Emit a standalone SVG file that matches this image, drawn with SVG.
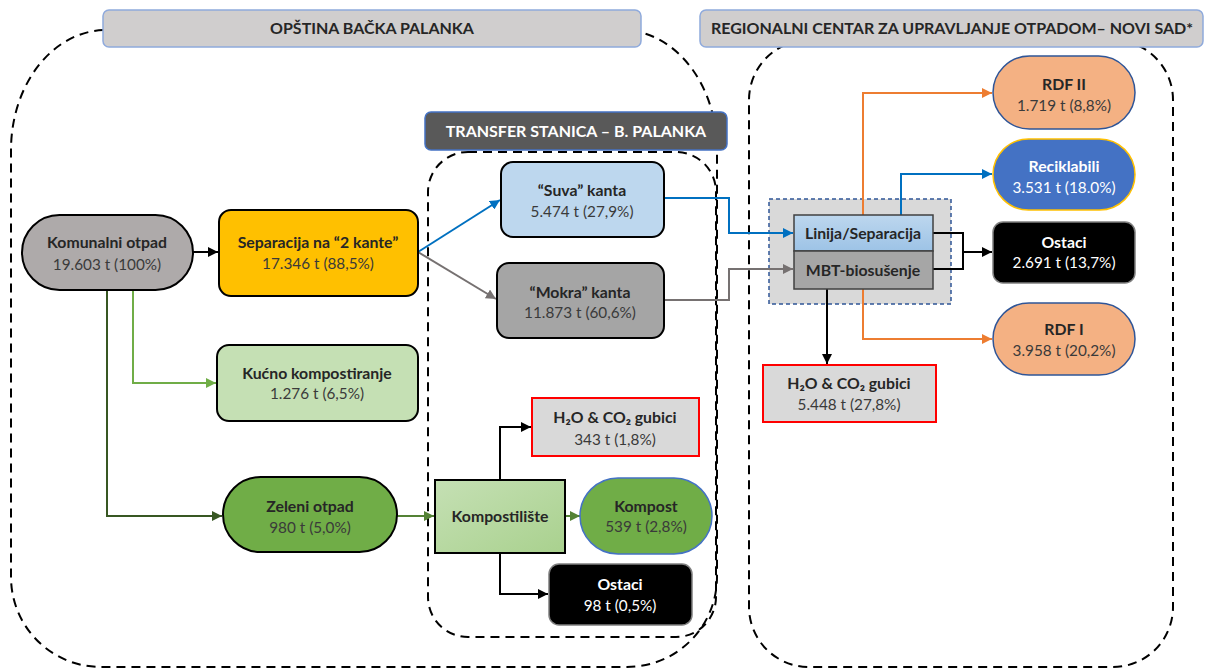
<svg xmlns="http://www.w3.org/2000/svg" width="1208" height="669" viewBox="0 0 1208 669">
<style>
text{font-family:Lato,"Liberation Sans",sans-serif;font-size:15.3px;fill:#262626;text-anchor:middle}
.b{font-weight:bold;font-size:15.8px}
.v{fill:#3a3a3a}
.w{fill:#ffffff}
.hd{font-weight:bold;font-size:16px}
.dash{fill:none;stroke:#000;stroke-width:2;stroke-dasharray:9 6}
.nb{stroke:#000;stroke-width:2}
.ln{fill:none;stroke-width:2}
</style>
<defs>
<marker id="ak" viewBox="0 0 10 10" refX="10" refY="5" markerWidth="10" markerHeight="10" markerUnits="userSpaceOnUse" orient="auto"><path d="M0,0L10,5L0,10z" fill="#000"/></marker>
<marker id="ab" viewBox="0 0 10 10" refX="10" refY="5" markerWidth="10" markerHeight="10" markerUnits="userSpaceOnUse" orient="auto"><path d="M0,0L10,5L0,10z" fill="#0070c0"/></marker>
<marker id="ag" viewBox="0 0 10 10" refX="10" refY="5" markerWidth="10" markerHeight="10" markerUnits="userSpaceOnUse" orient="auto"><path d="M0,0L10,5L0,10z" fill="#767171"/></marker>
<marker id="ao" viewBox="0 0 10 10" refX="10" refY="5" markerWidth="10" markerHeight="10" markerUnits="userSpaceOnUse" orient="auto"><path d="M0,0L10,5L0,10z" fill="#ed7d31"/></marker>
<marker id="alg" viewBox="0 0 10 10" refX="10" refY="5" markerWidth="10" markerHeight="10" markerUnits="userSpaceOnUse" orient="auto"><path d="M0,0L10,5L0,10z" fill="#70ad47"/></marker>
<marker id="adg" viewBox="0 0 10 10" refX="10" refY="5" markerWidth="10" markerHeight="10" markerUnits="userSpaceOnUse" orient="auto"><path d="M0,0L10,5L0,10z" fill="#385723"/></marker>
<marker id="amg" viewBox="0 0 10 10" refX="10" refY="5" markerWidth="10" markerHeight="10" markerUnits="userSpaceOnUse" orient="auto"><path d="M0,0L10,5L0,10z" fill="#548235"/></marker>
<linearGradient id="gLin" x1="0" y1="0" x2="0" y2="1"><stop offset="0" stop-color="#bdd7ee"/><stop offset="1" stop-color="#9dc3e6"/></linearGradient>
<linearGradient id="gKomp" x1="0" y1="0" x2="1" y2="1"><stop offset="0" stop-color="#c5e0b4"/><stop offset="1" stop-color="#a9d18e"/></linearGradient>
</defs>

<g id="region-opstina">
<path class="dash" d="M106,30 H622 A95 120 0 0 1 717 150 V577 A90 90 0 0 1 627 667 H101 A90 90 0 0 1 11 577 V150 A95 120 0 0 1 106 30 Z"/>
</g>
<g id="region-regionalni">
<rect class="dash" x="749" y="40" width="424" height="627" rx="60"/>
</g>
<g id="header-opstina">
<rect x="103" y="10" width="538" height="37" rx="6" fill="#d0cece" stroke="#8faadc" stroke-width="1.5"/>
<text class="hd" x="372" y="34">OPŠTINA BAČKA PALANKA</text>
</g>
<g id="header-regionalni">
<rect x="700" y="10" width="503" height="37" rx="6" fill="#d0cece" stroke="#8faadc" stroke-width="1.5"/>
<text class="hd" x="952" y="34">REGIONALNI CENTAR ZA UPRAVLJANJE OTPADOM– NOVI SAD*</text>
</g>
<g id="region-transfer">
<rect class="dash" x="428" y="152" width="288" height="485" rx="40"/>
</g>
<g id="header-transfer">
<rect x="425" y="112" width="302" height="38" rx="6" fill="#595959" stroke="#4472c4" stroke-width="1.5"/>
<text class="hd w" x="576" y="137">TRANSFER STANICA – B. PALANKA</text>
</g>

<g id="mbt-container">
<rect x="769" y="199" width="182" height="105" fill="#d9d9d9" stroke="#2f5597" stroke-width="1.5" stroke-dasharray="4 3"/>
</g>

<g id="connectors">
<path class="ln" stroke="#000" d="M193,252 H218" marker-end="url(#ak)"/>
<path class="ln" stroke="#0070c0" d="M418,252 L500,200" marker-end="url(#ab)"/>
<path class="ln" stroke="#767171" d="M418,252 L496,299" marker-end="url(#ag)"/>
<path class="ln" stroke="#70ad47" d="M133,290 V383 H216" marker-end="url(#alg)"/>
<path class="ln" stroke="#385723" d="M107,290 V516 H222" marker-end="url(#adg)"/>
<path class="ln" stroke="#548235" d="M397,516 H434" marker-end="url(#amg)"/>
<path class="ln" stroke="#548235" d="M565,516 H580" marker-end="url(#amg)"/>
<path class="ln" stroke="#000" d="M500,480 V427 H531" marker-end="url(#ak)"/>
<path class="ln" stroke="#000" d="M500,553 V594 H548" marker-end="url(#ak)"/>
<path class="ln" stroke="#0070c0" d="M664,198 H729 V233 H793" marker-end="url(#ab)"/>
<path class="ln" stroke="#767171" d="M664,300 H729 V269 H793" marker-end="url(#ag)"/>
<path class="ln" stroke="#ed7d31" d="M863,215 V93 H992" marker-end="url(#ao)"/>
<path class="ln" stroke="#0070c0" d="M901,215 V174 H992" marker-end="url(#ab)"/>
<path class="ln" stroke="#000" d="M933,233 H963 V269 H933"/>
<path class="ln" stroke="#000" d="M963,252 H992" marker-end="url(#ak)"/>
<path class="ln" stroke="#ed7d31" d="M863,289 V339 H992" marker-end="url(#ao)"/>
<path class="ln" stroke="#000" d="M827,289 V364" marker-end="url(#ak)"/>
</g>

<g id="komunalni">
<rect class="nb" x="22" y="215" width="171" height="75" rx="37.5" fill="#aeaaaa"/>
<text class="b" x="107" y="248">Komunalni otpad</text>
<text class="v" x="107" y="270">19.603 t (100%)</text>
</g>
<g id="separacija">
<rect class="nb" x="219" y="210" width="199" height="86" rx="12" fill="#ffc000"/>
<text class="b" x="318" y="248">Separacija na “2 kante”</text>
<text class="v" x="318" y="269">17.346 t (88,5%)</text>
</g>
<g id="suva">
<rect class="nb" x="501" y="162" width="163" height="75" rx="12" fill="#bdd7ee"/>
<text class="b" x="582" y="196">“Suva” kanta</text>
<text class="v" x="582" y="217">5.474 t (27,9%)</text>
</g>
<g id="mokra">
<rect class="nb" x="497" y="263" width="167" height="75" rx="12" fill="#a5a5a5"/>
<text class="b" x="580" y="298">“Mokra” kanta</text>
<text class="v" x="580" y="318">11.873 t (60,6%)</text>
</g>
<g id="kucno">
<rect class="nb" x="217" y="345" width="201" height="76" rx="12" fill="#c5e0b4"/>
<text class="b" x="317" y="379">Kućno kompostiranje</text>
<text class="v" x="317" y="399">1.276 t (6,5%)</text>
</g>
<g id="zeleni">
<rect class="nb" x="223" y="477" width="174" height="75" rx="37.5" fill="#70ad47"/>
<text class="b" x="310" y="512">Zeleni otpad</text>
<text class="v" x="310" y="533">980 t (5,0%)</text>
</g>
<g id="kompostiliste">
<rect class="nb" x="435" y="480" width="130" height="73" fill="url(#gKomp)"/>
<text class="b" x="500" y="522">Kompostilište</text>
</g>
<g id="kompost">
<rect x="580" y="478" width="132" height="76" rx="38" fill="#70ad47" stroke="#4472c4" stroke-width="1.5"/>
<text class="b" x="646" y="512">Kompost</text>
<text class="v" x="646" y="532">539 t (2,8%)</text>
</g>
<g id="gubici-kompost">
<rect x="532" y="398" width="167" height="58" fill="#d9d9d9" stroke="#ff0000" stroke-width="2"/>
<text class="b" x="615" y="423">H₂O &amp; CO₂ gubici</text>
<text class="v" x="615" y="445">343 t (1,8%)</text>
</g>
<g id="ostaci-kompost">
<rect x="549" y="564" width="143" height="61" rx="10" fill="#000" stroke="#7f7f7f" stroke-width="1.5"/>
<text class="b w" x="620" y="590">Ostaci</text>
<text class="w" x="620" y="611">98 t (0,5%)</text>
</g>
<g id="linija">
<rect x="794" y="215" width="139" height="36" fill="url(#gLin)" stroke="#404040" stroke-width="1.5"/>
<text class="b" x="863" y="239">Linija/Separacija</text>
</g>
<g id="mbt">
<rect x="794" y="251" width="139" height="38" fill="#a6a6a6" stroke="#404040" stroke-width="1.5"/>
<text class="b" x="863" y="276">MBT-biosušenje</text>
</g>
<g id="gubici-mbt">
<rect x="763" y="365" width="173" height="57" fill="#d9d9d9" stroke="#ff0000" stroke-width="2"/>
<text class="b" x="849" y="389">H₂O &amp; CO₂ gubici</text>
<text class="v" x="849" y="410">5.448 t (27,8%)</text>
</g>
<g id="rdf2">
<rect x="993" y="56" width="142" height="73" rx="36.5" fill="#f4b183" stroke="#2f5597" stroke-width="1.5"/>
<text class="b" x="1064" y="90">RDF II</text>
<text class="v" x="1064" y="111">1.719 t (8,8%)</text>
</g>
<g id="reciklabili">
<rect x="993" y="139" width="142" height="71" rx="35.5" fill="#4472c4" stroke="#ffc000" stroke-width="1.5"/>
<text class="b w" x="1064" y="172">Reciklabili</text>
<text class="w" x="1064" y="193">3.531 t (18.0%)</text>
</g>
<g id="ostaci-rc">
<rect x="993" y="222" width="142" height="61" rx="10" fill="#000" stroke="#7f7f7f" stroke-width="1.5"/>
<text class="b w" x="1064" y="248">Ostaci</text>
<text class="w" x="1064" y="268">2.691 t (13,7%)</text>
</g>
<g id="rdf1">
<rect x="993" y="303" width="142" height="72" rx="36" fill="#f4b183" stroke="#2f5597" stroke-width="1.5"/>
<text class="b" x="1064" y="335">RDF I</text>
<text class="v" x="1064" y="356">3.958 t (20,2%)</text>
</g>
</svg>
